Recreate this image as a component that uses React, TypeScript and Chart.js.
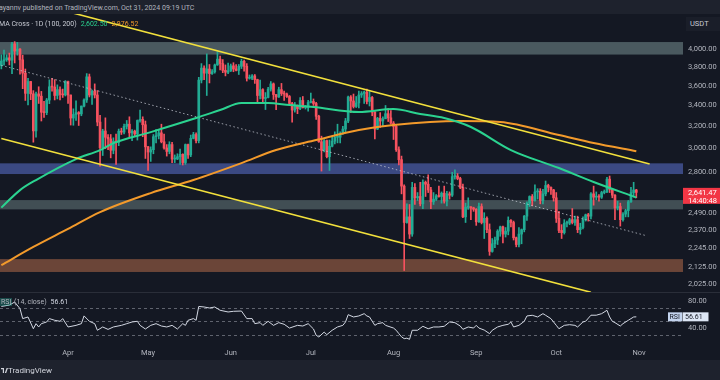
import React, { useEffect, useRef } from "react";
import { Chart, registerables } from "chart.js";

Chart.register(...registerables);

// ---------------- data ----------------
// day index 0 = 2024-03-07, one slot per day; visible range runs to Nov 17
const firstDay = "2024-03-07";
const slotCount = 256;
const monthLabels = ["Apr", "May", "Jun", "Jul", "Aug", "Sep", "Oct", "Nov"];
const monthDays = [25, 55, 86, 116, 147, 178, 208, 239];

const opens = [
  // Mar 7-31
  3818, 3868, 3883, 3905, 3878, 4066, 3982, 4005, 3882, 3735, 3522, 3645, 3517, 3158, 3516, 3493, 3334, 3330, 3454, 3590, 3587, 3500, 3560, 3510, 3506,
  // Apr
  3645, 3505, 3278, 3312, 3330, 3318, 3394, 3455, 3695, 3505, 3545, 3505, 3240, 3008, 3157, 3100, 3085, 2985, 3065, 3055, 3155, 3147, 3200, 3220, 3140, 3155, 3130, 3255, 3265, 3215,
  // May
  3015, 2970, 2990, 3105, 3115, 3140, 3060, 3005, 2975, 3035, 2910, 2910, 2930, 2950, 2880, 3035, 2945, 3090, 3125, 3070, 3660, 3790, 3735, 3780, 3730, 3750, 3825, 3890, 3840, 3765, 3745,
  // Jun
  3760, 3815, 3780, 3765, 3810, 3865, 3810, 3680, 3680, 3705, 3665, 3500, 3560, 3470, 3480, 3565, 3620, 3510, 3485, 3560, 3520, 3515, 3490, 3420, 3355, 3395, 3370, 3450, 3380, 3380,
  // Jul
  3430, 3440, 3420, 3295, 3060, 2985, 3070, 2930, 3020, 3065, 3100, 3100, 3135, 3175, 3250, 3485, 3445, 3390, 3425, 3505, 3520, 3535, 3440, 3480, 3335, 3175, 3275, 3250, 3270, 3320, 3280,
  // Aug
  3230, 3200, 2990, 2905, 2690, 2420, 2460, 2340, 2680, 2600, 2610, 2555, 2720, 2705, 2660, 2570, 2590, 2615, 2610, 2635, 2575, 2630, 2620, 2765, 2770, 2750, 2680, 2460, 2530, 2530, 2525,
  // Sep
  2515, 2425, 2535, 2420, 2450, 2370, 2225, 2275, 2300, 2360, 2390, 2340, 2360, 2435, 2420, 2315, 2270, 2340, 2370, 2465, 2560, 2610, 2580, 2645, 2650, 2580, 2630, 2695, 2680, 2660,
  // Oct
  2600, 2450, 2365, 2350, 2415, 2415, 2440, 2420, 2440, 2370, 2385, 2440, 2475, 2465, 2630, 2605, 2610, 2605, 2640, 2645, 2745, 2665, 2620, 2525, 2535, 2440, 2480, 2505, 2570, 2640, 2660,
];
const highs = [
  3939, 3995, 3940, 3959, 4086, 4093, 4084, 4012, 3935, 3780, 3680, 3647, 3550, 3535, 3590, 3542, 3440, 3470, 3663, 3680, 3665, 3610, 3588, 3566, 3655,
  3650, 3505, 3367, 3445, 3340, 3395, 3466, 3730, 3725, 3555, 3620, 3551, 3305, 3173, 3280, 3125, 3125, 3095, 3128, 3175, 3183, 3220, 3255, 3290, 3170, 3165, 3260, 3355, 3290, 3250,
  3020, 3015, 3125, 3170, 3170, 3220, 3130, 3035, 3060, 3055, 2945, 2955, 2995, 2955, 3040, 3040, 3120, 3145, 3140, 3690, 3840, 3815, 3950, 3830, 3775, 3835, 3975, 3925, 3885, 3825, 3845,
  3835, 3850, 3830, 3830, 3890, 3880, 3840, 3715, 3720, 3720, 3670, 3660, 3570, 3530, 3585, 3645, 3630, 3510, 3585, 3625, 3545, 3525, 3500, 3430, 3430, 3405, 3480, 3490, 3400, 3450,
  3525, 3465, 3430, 3305, 3110, 3080, 3075, 3075, 3110, 3150, 3220, 3150, 3200, 3275, 3495, 3500, 3515, 3490, 3545, 3540, 3545, 3565, 3540, 3490, 3340, 3285, 3330, 3290, 3400, 3370, 3350,
  3245, 3215, 3015, 2935, 2700, 2555, 2550, 2720, 2710, 2640, 2720, 2740, 2730, 2780, 2680, 2640, 2625, 2690, 2645, 2690, 2650, 2645, 2800, 2820, 2790, 2760, 2705, 2560, 2600, 2535, 2530,
  2520, 2560, 2555, 2490, 2460, 2410, 2310, 2320, 2370, 2395, 2395, 2385, 2460, 2440, 2430, 2320, 2385, 2375, 2470, 2570, 2615, 2625, 2700, 2670, 2670, 2665, 2730, 2705, 2685, 2665,
  2640, 2500, 2405, 2440, 2430, 2450, 2520, 2465, 2465, 2415, 2460, 2480, 2485, 2640, 2690, 2645, 2625, 2650, 2660, 2760, 2770, 2670, 2625, 2575, 2560, 2490, 2515, 2580, 2680, 2720, 2665,
];
const lows = [
  3781, 3823, 3865, 3825, 3730, 3847, 3935, 3723, 3570, 3450, 3405, 3458, 3056, 3100, 3420, 3250, 3285, 3310, 3418, 3545, 3455, 3465, 3455, 3480, 3495,
  3420, 3212, 3210, 3255, 3208, 3300, 3386, 3430, 3485, 3410, 3475, 3205, 2850, 2940, 3000, 2990, 2920, 2955, 2865, 3025, 3125, 3130, 3175, 3100, 3070, 3110, 3075, 3240, 3105, 2915,
  2815, 2890, 2955, 3050, 3085, 3050, 2995, 2935, 2955, 2880, 2880, 2905, 2865, 2860, 2865, 2915, 2930, 3085, 3050, 3050, 3630, 3665, 3500, 3630, 3720, 3735, 3820, 3770, 3740, 3705, 3730,
  3752, 3750, 3760, 3720, 3785, 3755, 3650, 3670, 3665, 3625, 3430, 3465, 3430, 3360, 3475, 3545, 3460, 3360, 3480, 3500, 3450, 3480, 3410, 3240, 3335, 3320, 3360, 3375, 3365, 3345,
  3425, 3400, 3265, 3055, 2810, 2970, 2920, 2815, 3015, 3040, 3050, 3050, 3125, 3140, 3235, 3330, 3375, 3380, 3375, 3480, 3420, 3415, 3395, 3300, 3085, 3170, 3190, 3205, 3300, 3245, 3220,
  3080, 2975, 2860, 2630, 2105, 2415, 2310, 2325, 2550, 2580, 2540, 2520, 2610, 2640, 2520, 2550, 2580, 2605, 2560, 2560, 2540, 2590, 2610, 2745, 2740, 2670, 2455, 2420, 2515, 2440, 2500,
  2400, 2420, 2410, 2310, 2350, 2200, 2220, 2250, 2270, 2325, 2280, 2320, 2335, 2390, 2300, 2255, 2255, 2275, 2355, 2435, 2535, 2540, 2575, 2590, 2555, 2555, 2615, 2645, 2625, 2575,
  2420, 2350, 2310, 2340, 2390, 2405, 2410, 2400, 2350, 2340, 2375, 2430, 2430, 2445, 2545, 2585, 2575, 2595, 2630, 2640, 2640, 2600, 2440, 2510, 2395, 2430, 2460, 2460, 2565, 2605, 2600,
];
const closes = [
  3868, 3883, 3905, 3878, 4066, 3982, 4005, 3882, 3735, 3522, 3645, 3517, 3158, 3516, 3493, 3334, 3330, 3454, 3590, 3587, 3500, 3560, 3510, 3506, 3645,
  3505, 3278, 3312, 3330, 3318, 3394, 3455, 3695, 3505, 3545, 3505, 3240, 3008, 3157, 3100, 3085, 2985, 3065, 3055, 3155, 3147, 3200, 3220, 3140, 3155, 3130, 3255, 3265, 3215, 3015,
  2970, 2990, 3105, 3115, 3140, 3060, 3005, 2975, 3035, 2910, 2910, 2930, 2950, 2880, 3035, 2945, 3090, 3125, 3070, 3660, 3790, 3735, 3780, 3730, 3750, 3825, 3890, 3840, 3765, 3745, 3760,
  3815, 3780, 3765, 3810, 3865, 3810, 3680, 3680, 3705, 3665, 3500, 3560, 3470, 3480, 3565, 3620, 3510, 3485, 3560, 3520, 3515, 3490, 3420, 3355, 3395, 3370, 3450, 3380, 3380, 3430,
  3440, 3420, 3295, 3060, 2985, 3070, 2930, 3020, 3065, 3100, 3100, 3135, 3175, 3250, 3485, 3445, 3390, 3425, 3505, 3520, 3535, 3440, 3480, 3335, 3175, 3275, 3250, 3270, 3320, 3280, 3230,
  3200, 2990, 2905, 2690, 2420, 2460, 2340, 2680, 2600, 2610, 2555, 2720, 2705, 2660, 2570, 2590, 2615, 2610, 2635, 2575, 2630, 2620, 2765, 2770, 2750, 2680, 2460, 2530, 2530, 2525, 2515,
  2425, 2535, 2420, 2450, 2370, 2225, 2275, 2300, 2360, 2390, 2340, 2360, 2435, 2420, 2315, 2270, 2340, 2370, 2465, 2560, 2610, 2580, 2645, 2650, 2580, 2630, 2695, 2680, 2660, 2600,
  2450, 2365, 2350, 2415, 2415, 2440, 2420, 2440, 2370, 2385, 2440, 2475, 2465, 2630, 2605, 2610, 2605, 2640, 2645, 2745, 2665, 2620, 2525, 2535, 2440, 2480, 2505, 2570, 2640, 2660, 2641.47,
];

// moving averages (day index, price)
const ma100Days = [0, 7, 13, 28, 37, 42, 56, 73, 82, 90, 100, 108, 117, 134, 147, 157, 166, 176, 191, 209, 222, 238];
const ma100Vals = [2527, 2659, 2738, 2910, 2987, 3048, 3147, 3278, 3355, 3424, 3424, 3404, 3385, 3336, 3365, 3317, 3278, 3194, 2987, 2835, 2722, 2602.5];
const ma200Days = [0, 12, 25, 37, 56, 72, 90, 103, 118, 134, 147, 172, 187, 209, 222, 238];
const ma200Vals = [2138, 2254, 2375, 2494, 2636, 2738, 2876, 2987, 3075, 3166, 3212, 3250, 3240, 3120, 3048, 2976.52];

// drawn trend lines (day index, price)
const upperTrendDays = [20, 243];
const upperTrendPrices = [4510, 2868];
const lowerTrendDays = [0, 221];
const lowerTrendPrices = [3089, 1976];
const midTrendDays = [0, 242];
const midTrendPrices = [3820, 2328];

// horizontal zones (price ranges)
const zoneLows = [3942, 2786, 2514, 2096];
const zoneHighs = [4088, 2874, 2583, 2176];

// RSI(14)
const rsiDays = [0, 3, 5, 7, 8, 10, 12, 13, 14, 15, 17, 18, 20, 22, 23, 25, 28, 30, 31, 33, 35, 36, 38, 40, 42, 45, 47, 49, 51, 52, 54, 56, 58, 60, 62, 64, 66, 68, 69, 70, 72, 73, 74, 76, 78, 80, 82, 85, 87, 90, 92, 94, 95, 97, 98, 100, 102, 104, 106, 108, 111, 113, 115, 117, 118, 119, 121, 122, 124, 126, 128, 129, 130, 132, 134, 136, 137, 138, 140, 141, 143, 144, 147, 148, 149, 150, 151, 152, 153, 154, 156, 158, 160, 162, 164, 166, 168, 170, 172, 173, 175, 177, 178, 179, 181, 183, 184, 186, 188, 190, 191, 192, 194, 196, 197, 199, 201, 203, 204, 206, 208, 209, 211, 213, 215, 216, 218, 219, 221, 223, 225, 227, 228, 229, 230, 232, 233, 235, 237, 238];
const rsiVals = [72, 74, 78.5, 68.7, 54, 56.4, 39, 46.5, 41.6, 46.5, 49, 54, 51.5, 50, 54, 41.6, 44, 46.5, 58, 50, 46.5, 36.7, 41.6, 38, 41.6, 44, 46.5, 49, 50, 44, 38.6, 44, 46.5, 43, 41.6, 44, 38.6, 46.5, 44, 51.5, 54, 51.5, 72, 71.2, 69.7, 71.2, 66.3, 63.8, 64.8, 65.2, 54, 54, 46.5, 48, 44, 50, 44, 48, 45.6, 40, 44, 43, 46.5, 38.6, 29.3, 26.8, 34, 30.2, 36.7, 41.6, 44, 49, 59.8, 56.4, 57.9, 61.3, 57.9, 56.4, 44, 46.5, 48, 44, 40, 36.7, 31.7, 27, 24.3, 25, 23.3, 36.7, 36.7, 42.6, 39, 41.6, 41.6, 42.6, 49, 48, 43, 38.1, 41.6, 40, 44, 40, 37, 31.7, 36.7, 41.6, 44, 45.6, 49, 41.6, 44, 50, 57.9, 58.9, 56.4, 61.3, 58.9, 53.9, 44, 39, 44, 45, 44, 41.6, 49, 50, 59, 59, 61.3, 66.3, 56.4, 50, 48, 43, 46.5, 51.5, 56.4, 56.61];

const priceTicks = [4000, 3800, 3600, 3400, 3200, 3000, 2800, 2490, 2370, 2245, 2125, 2025];
const rsiTicks = [80, 40];
const rsiLevels = [70, 50, 30];
const ma100Last = 2602.5;
const ma200Last = 2976.52;
const countdown = "14:40:48";

// ---------------- styles ----------------
const BG = "#141823";
const PANEL = "#1e222d";
const UP = "#22ab94";
const DOWN = "#f7525f";
const GREEN = "#2bd390";
const ORANGE = "#f39a2b";
const YELLOW = "#f2e03c";
const AXIS_TEXT = "#b2b5be";
const FONT = "Roboto, 'Liberation Sans', Arial, sans-serif";
const zoneColors = ["#4a595f", "#3b4982", "#414e54", "#6b4538"];

const xRange = { min: -0.5, max: slotCount - 0.5 };
const priceRange = { min: 1977.6, max: 4435 };
const rsiRange = { min: 14.9, max: 91.9 };

const fmt2 = (v: number) =>
  Number(v).toLocaleString("en-US", { minimumFractionDigits: 2, maximumFractionDigits: 2 });

Chart.defaults.font.family = FONT;

// keep the plot area at full height (no label overflow padding)
const noPad = (s: any) => {
  s.paddingTop = 0;
  s.paddingBottom = 0;
  s.paddingLeft = 0;
  s.paddingRight = 0;
};

const zonesPlugin = {
  id: "zones",
  beforeDatasetsDraw(chart: any) {
    const { ctx, chartArea, scales } = chart;
    ctx.save();
    zoneLows.forEach((lo, i) => {
      const yTop = scales.y.getPixelForValue(zoneHighs[i]);
      const yBot = scales.y.getPixelForValue(lo);
      ctx.fillStyle = zoneColors[i];
      ctx.fillRect(chartArea.left, yTop, chartArea.right - chartArea.left, yBot - yTop);
    });
    ctx.restore();
  },
};

const lastPricePlugin = {
  id: "lastPrice",
  afterDraw(chart: any) {
    const { ctx, chartArea, scales } = chart;
    const last = closes[closes.length - 1];
    const y = scales.y.getPixelForValue(last);
    ctx.save();
    ctx.fillStyle = "#f23645";
    ctx.fillRect(chartArea.right, y - 4.5, chart.width - chartArea.right, 16);
    ctx.fillStyle = "#ffffff";
    ctx.font = `7.5px ${FONT}`;
    ctx.textBaseline = "middle";
    ctx.textAlign = "left";
    ctx.fillText(fmt2(last), chartArea.right + 5, y + 0.8);
    ctx.fillText(countdown, chartArea.right + 5, y + 8.3);
    ctx.restore();
  },
};

const rsiPlugin = {
  id: "rsiDecor",
  beforeDatasetsDraw(chart: any) {
    const { ctx, chartArea, scales } = chart;
    ctx.save();
    ctx.strokeStyle = "#5f636e";
    ctx.lineWidth = 1;
    ctx.setLineDash([3, 3]);
    rsiLevels.forEach((v) => {
      const y = Math.round(scales.y.getPixelForValue(v)) + 0.5;
      ctx.beginPath();
      ctx.moveTo(chartArea.left, y);
      ctx.lineTo(chartArea.right, y);
      ctx.stroke();
    });
    ctx.restore();
  },
  afterDraw(chart: any) {
    const { ctx, scales } = chart;
    const v = rsiVals[rsiVals.length - 1];
    const y = scales.y.getPixelForValue(v);
    ctx.save();
    ctx.fillStyle = "#c3d3ee";
    ctx.fillRect(668, y - 4.5, 14, 9);
    ctx.fillStyle = "#dde6f5";
    ctx.fillRect(682.5, y - 4.5, 26, 9);
    ctx.fillStyle = "#131722";
    ctx.font = `7px ${FONT}`;
    ctx.textBaseline = "middle";
    ctx.textAlign = "left";
    ctx.fillText("RSI", 669.5, y + 0.5);
    ctx.fillText(v.toFixed(2), 685, y + 0.5);
    ctx.restore();
  },
};

function MainChart() {
  const ref = useRef<HTMLCanvasElement>(null);
  useEffect(() => {
    if (!ref.current) return;
    const days = closes.map((_, i) => i);
    const color = (ctx: any) => (closes[ctx.dataIndex] >= opens[ctx.dataIndex] ? UP : DOWN);
    const chart = new Chart(ref.current, {
      type: "bar",
      data: {
        datasets: [
          {
            type: "bar",
            data: days.map((i) => ({ x: i, y: [lows[i], highs[i]] })),
            backgroundColor: color,
            barThickness: 1,
            grouped: false,
            order: 6,
          } as any,
          {
            type: "bar",
            data: days.map((i) => ({ x: i, y: [Math.min(opens[i], closes[i]), Math.max(opens[i], closes[i])] })),
            backgroundColor: color,
            barThickness: 2,
            minBarLength: 1,
            grouped: false,
            order: 5,
          } as any,
          {
            type: "line",
            data: midTrendDays.map((d, i) => ({ x: d, y: midTrendPrices[i] })),
            borderColor: "rgba(200,204,214,0.75)",
            borderWidth: 1,
            borderDash: [1.5, 2.5],
            pointRadius: 0,
            order: 4,
          } as any,
          {
            type: "line",
            data: ma200Days.map((d, i) => ({ x: d, y: ma200Vals[i] })),
            borderColor: ORANGE,
            borderWidth: 2,
            pointRadius: 0,
            cubicInterpolationMode: "monotone",
            order: 3,
          } as any,
          {
            type: "line",
            data: ma100Days.map((d, i) => ({ x: d, y: ma100Vals[i] })),
            borderColor: GREEN,
            borderWidth: 2,
            pointRadius: 0,
            cubicInterpolationMode: "monotone",
            order: 2,
          } as any,
          {
            type: "line",
            data: upperTrendDays.map((d, i) => ({ x: d, y: upperTrendPrices[i] })),
            borderColor: YELLOW,
            borderWidth: 1.6,
            pointRadius: 0,
            order: 1,
          } as any,
          {
            type: "line",
            data: lowerTrendDays.map((d, i) => ({ x: d, y: lowerTrendPrices[i] })),
            borderColor: YELLOW,
            borderWidth: 1.6,
            pointRadius: 0,
            order: 1,
          } as any,
        ],
      },
      options: {
        responsive: false,
        animation: false,
        devicePixelRatio: 1,
        layout: { padding: 0 },
        plugins: { legend: { display: false }, tooltip: { enabled: false } },
        scales: {
          x: {
            type: "linear",
            min: xRange.min,
            max: xRange.max,
            offset: false,
            grid: { offset: false, display: false },
            display: false,
            afterFit: noPad,
          },
          y: {
            type: "logarithmic",
            position: "right",
            min: priceRange.min,
            max: priceRange.max,
            grid: { display: false, drawTicks: false },
            border: { display: false },
            ticks: {
              autoSkip: false,
              color: AXIS_TEXT,
              font: { size: 7.5, family: FONT },
              padding: 5,
              callback: (v: any) => fmt2(Number(v)),
            },
            afterBuildTicks: (s: any) => {
              s.ticks = priceTicks.map((v) => ({ value: v }));
            },
            afterFit: (s: any) => {
              s.width = 37;
              noPad(s);
            },
          },
        },
      } as any,
      plugins: [zonesPlugin, lastPricePlugin],
    });
    return () => chart.destroy();
  }, []);
  return <canvas ref={ref} width={720} height={278} style={{ position: "absolute", left: 0, top: 14, width: 720, height: 278 }} />;
}

function RsiChart() {
  const ref = useRef<HTMLCanvasElement>(null);
  useEffect(() => {
    if (!ref.current) return;
    const chart = new Chart(ref.current, {
      type: "line",
      data: {
        datasets: [
          {
            data: rsiDays.map((d, i) => ({ x: d, y: rsiVals[i] })),
            borderColor: "#d3d8e3",
            borderWidth: 1,
            pointRadius: 0,
            tension: 0,
          },
        ],
      },
      options: {
        responsive: false,
        animation: false,
        devicePixelRatio: 1,
        layout: { padding: 0 },
        plugins: { legend: { display: false }, tooltip: { enabled: false } },
        scales: {
          x: {
            type: "linear",
            min: xRange.min,
            max: xRange.max,
            offset: false,
            grid: { display: false, drawTicks: false },
            border: { display: false },
            ticks: {
              autoSkip: false,
              maxRotation: 0,
              color: AXIS_TEXT,
              font: { size: 7.5, family: FONT },
              padding: 4,
              callback: (v: any) => monthLabels[monthDays.indexOf(Number(v))] ?? "",
            },
            afterBuildTicks: (s: any) => {
              s.ticks = monthDays.map((v) => ({ value: v }));
            },
            afterFit: (s: any) => {
              s.height = 15;
              noPad(s);
            },
          },
          y: {
            type: "linear",
            position: "right",
            min: rsiRange.min,
            max: rsiRange.max,
            grid: { display: false, drawTicks: false },
            border: { display: false },
            ticks: {
              autoSkip: false,
              color: AXIS_TEXT,
              font: { size: 7.5, family: FONT },
              padding: 5,
              callback: (v: any) => Number(v).toFixed(2),
            },
            afterBuildTicks: (s: any) => {
              s.ticks = rsiTicks.map((v) => ({ value: v }));
            },
            afterFit: (s: any) => {
              s.width = 37;
              noPad(s);
            },
          },
        },
      } as any,
      plugins: [rsiPlugin],
    });
    return () => chart.destroy();
  }, []);
  return <canvas ref={ref} width={720} height={67} style={{ position: "absolute", left: 0, top: 293, width: 720, height: 67 }} />;
}

export default function App() {
  const txt: React.CSSProperties = { position: "absolute", whiteSpace: "nowrap", fontFamily: FONT, fontSize: 7, lineHeight: "10px" };
  return (
    <div style={{ position: "fixed", left: 0, top: 0, width: 720, height: 380, overflow: "hidden", background: BG }}>
      <div style={{ position: "absolute", left: 0, top: 0, width: 720, height: 14, background: PANEL }} />
      <div style={{ ...txt, left: -1, top: 3, color: "#b2b5be" }}>
        ayannv published on TradingView.com, Oct 31, 2024 09:19 UTC
      </div>
      <MainChart />
      <div style={{ ...txt, left: -1, top: 19, color: "#c8cbd4" }}>
        MA Cross · 1D (100, 200)
        <span style={{ color: GREEN, marginLeft: 4 }}>{fmt2(ma100Last)}</span>
        <span style={{ color: ORANGE, marginLeft: 4 }}>{fmt2(ma200Last)}</span>
      </div>
      <div style={{ position: "absolute", left: 686, top: 17, width: 34, height: 14, background: "#1a1e29" }} />
      <div style={{ ...txt, left: 690, top: 19, color: "#c8cbd4", fontSize: 7.5 }}>USDT</div>
      <div style={{ position: "absolute", left: 0, top: 292, width: 720, height: 1, background: "#2a2e39" }} />
      <RsiChart />
      <div style={{ ...txt, left: 0, top: 297, color: "#b2b5be" }}>
        <span style={{ background: "rgba(34,171,148,0.35)", padding: "0 1px" }}>RSI</span> (14, close)
        <span style={{ color: "#d3d8e3", marginLeft: 4 }}>{rsiVals[rsiVals.length - 1].toFixed(2)}</span>
      </div>
      <div style={{ position: "absolute", left: 0, top: 360, width: 720, height: 20, background: PANEL }} />
      <svg style={{ position: "absolute", left: 1, top: 367 }} width={7} height={7} viewBox="0 0 7 7">
        <path d="M0 1 H3 V6 H1.8 V2.2 H0 Z M3.8 6 L5.6 1 H7 L5.2 6 Z" fill="#d1d4dc" />
      </svg>
      <div style={{ ...txt, left: 8, top: 366, color: "#d1d4dc", fontSize: 8 }}>TradingView</div>
    </div>
  );
}
